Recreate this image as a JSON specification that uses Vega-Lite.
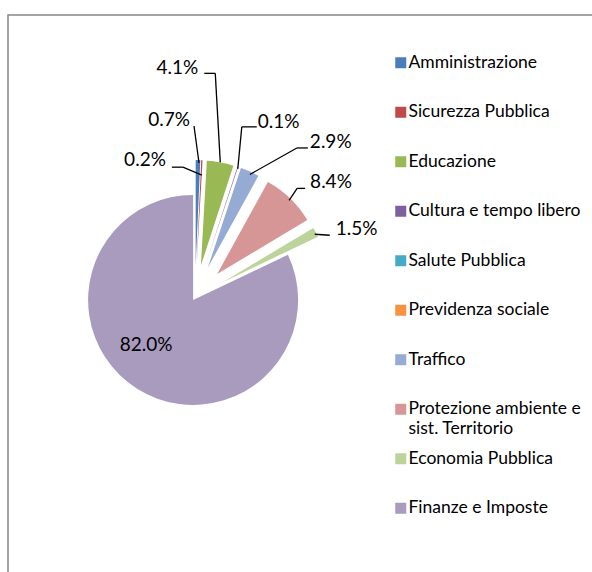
{
  "$schema": "https://vega.github.io/schema/vega-lite/v6.json",
  "width": 587,
  "height": 560,
  "autosize": {"type": "none"},
  "padding": {"left": 8, "top": 15, "right": -3, "bottom": -3},
  "background": "white",
  "config": {
    "view": {"stroke": "#878787", "strokeWidth": 1.5},
    "font": "Lato",
    "legend": {
      "orient": "none",
      "legendX": 384,
      "legendY": 39,
      "padding": 0,
      "title": null,
      "symbolType": "square",
      "symbolSize": 121,
      "symbolStrokeWidth": 0,
      "symbolOpacity": 1,
      "labelFont": "Lato",
      "labelFontSize": 17.5,
      "labelColor": "#000000",
      "labelOffset": -1,
      "labelLimit": 300,
      "rowPadding": 11.5,
      "gridAlign": "all"
    }
  },
  "data": {
    "values": [
      {"cat": "Amministrazione", "pct": 0.7},
      {"cat": "Sicurezza Pubblica", "pct": 0.2},
      {"cat": "Educazione", "pct": 4.1},
      {"cat": "Cultura e tempo libero", "pct": 0.1},
      {"cat": "Salute Pubblica", "pct": 0},
      {"cat": "Previdenza sociale", "pct": 0},
      {"cat": "Traffico", "pct": 2.9},
      {"cat": "Protezione ambiente e sist. Territorio", "pct": 8.4},
      {"cat": "Economia Pubblica", "pct": 1.5},
      {"cat": "Finanze e Imposte", "pct": 82.0}
    ]
  },
  "transform": [
    {"joinaggregate": [{"op": "sum", "field": "pct", "as": "total"}]},
    {"window": [{"op": "sum", "field": "pct", "as": "cum"}], "frame": [null, 0]},
    {"calculate": "indexof(['Amministrazione','Sicurezza Pubblica','Educazione','Cultura e tempo libero','Salute Pubblica','Previdenza sociale','Traffico','Protezione ambiente e sist. Territorio','Economia Pubblica','Finanze e Imposte'], datum.cat)", "as": "i"},
    {"calculate": "(datum.cum - datum.pct) / datum.total", "as": "a0"},
    {"calculate": "datum.cum / datum.total", "as": "a1"},
    {"calculate": "(datum.a0 + datum.a1) * PI", "as": "mid"},
    {"calculate": "datum.i == 9 ? 3.5 : 32", "as": "d"},
    {"calculate": "187 + datum.d * sin(datum.mid)", "as": "cx"},
    {"calculate": "282 - datum.d * cos(datum.mid)", "as": "cy"},
    {"calculate": "datum.cx + 105 * sin(datum.mid)", "as": "ox"},
    {"calculate": "datum.cy - 105 * cos(datum.mid)", "as": "oy"},
    {"calculate": "datum.ox + [-8,-36,-22,20,0,0,60,20,20,9][datum.i]", "as": "tx"},
    {"calculate": "datum.oy + [-40,0,-94,-45,0,0,-29.5,-16.4,-3,-44][datum.i]", "as": "ty"},
    {"calculate": "datum.ox + [1,0,0,0,0,0,0,-1,-1,0][datum.i]", "as": "p0x"},
    {"calculate": "datum.oy + [3,15,0,2,0,0,3,2,2,0][datum.i]", "as": "p0y"},
    {"calculate": "datum.ox + [-4,-19,-5,4,0,0,47,7,-1,0][datum.i]", "as": "p1x"},
    {"calculate": "datum.oy + [-34,7,-89,-40,0,0,-23.5,-10,2,0][datum.i]", "as": "p1y"},
    {"calculate": "datum.ox + [-4,-30,-16,19,0,0,58,15,14,0][datum.i]", "as": "p2x"},
    {"calculate": "datum.oy + [-34,7,-89,-40,0,0,-23.5,-10,3,0][datum.i]", "as": "p2y"},
    {"calculate": "format(datum.pct, '.1f') + '%'", "as": "lab"}
  ],
  "layer": [
    {
      "mark": {"type": "arc", "outerRadius": 105, "strokeWidth": 0},
      "encoding": {
        "theta": {"field": "a0", "type": "quantitative", "stack": null, "scale": {"domain": [0, 1]}},
        "theta2": {"field": "a1"},
        "x": {"field": "cx", "type": "quantitative", "scale": null},
        "y": {"field": "cy", "type": "quantitative", "scale": null},
        "color": {
          "field": "cat",
          "type": "nominal",
          "sort": null,
          "scale": {
            "domain": ["Amministrazione", "Sicurezza Pubblica", "Educazione", "Cultura e tempo libero", "Salute Pubblica", "Previdenza sociale", "Traffico", "Protezione ambiente e sist. Territorio", "Economia Pubblica", "Finanze e Imposte"],
            "range": ["#4A7EBB", "#BE4B48", "#98B954", "#7D60A0", "#46AAC5", "#F69240", "#95ABD4", "#D69695", "#BCD49B", "#A99BBE"]
          },
          "legend": {
            "labelExpr": "datum.label == 'Protezione ambiente e sist. Territorio' ? ['Protezione ambiente e', 'sist. Territorio'] : datum.label"
          }
        }
      }
    },
    {
      "transform": [{"filter": "datum.i != 4 && datum.i != 5 && datum.i != 9"}],
      "mark": {"type": "rule", "color": "#000000", "strokeWidth": 1.3},
      "encoding": {
        "x": {"field": "p0x", "type": "quantitative", "scale": null},
        "y": {"field": "p0y", "type": "quantitative", "scale": null},
        "x2": {"field": "p1x"},
        "y2": {"field": "p1y"}
      }
    },
    {
      "transform": [{"filter": "datum.i != 4 && datum.i != 5 && datum.i != 9"}],
      "mark": {"type": "rule", "color": "#000000", "strokeWidth": 1.3},
      "encoding": {
        "x": {"field": "p1x", "type": "quantitative", "scale": null},
        "y": {"field": "p1y", "type": "quantitative", "scale": null},
        "x2": {"field": "p2x"},
        "y2": {"field": "p2y"}
      }
    },
    {
      "transform": [{"filter": "datum.i <= 2"}],
      "mark": {"type": "text", "align": "right", "baseline": "middle", "fontSize": 19, "font": "Lato", "color": "#000000"},
      "encoding": {
        "x": {"field": "tx", "type": "quantitative", "scale": null},
        "y": {"field": "ty", "type": "quantitative", "scale": null},
        "text": {"field": "lab"}
      }
    },
    {
      "transform": [{"filter": "datum.i == 3 || (datum.i >= 6 && datum.i <= 8)"}],
      "mark": {"type": "text", "align": "left", "baseline": "middle", "fontSize": 19, "font": "Lato", "color": "#000000"},
      "encoding": {
        "x": {"field": "tx", "type": "quantitative", "scale": null},
        "y": {"field": "ty", "type": "quantitative", "scale": null},
        "text": {"field": "lab"}
      }
    },
    {
      "transform": [{"filter": "datum.i == 9"}],
      "mark": {"type": "text", "align": "center", "baseline": "middle", "fontSize": 19, "font": "Lato", "color": "#000000"},
      "encoding": {
        "x": {"field": "tx", "type": "quantitative", "scale": null},
        "y": {"field": "ty", "type": "quantitative", "scale": null},
        "text": {"field": "lab"}
      }
    }
  ]
}
